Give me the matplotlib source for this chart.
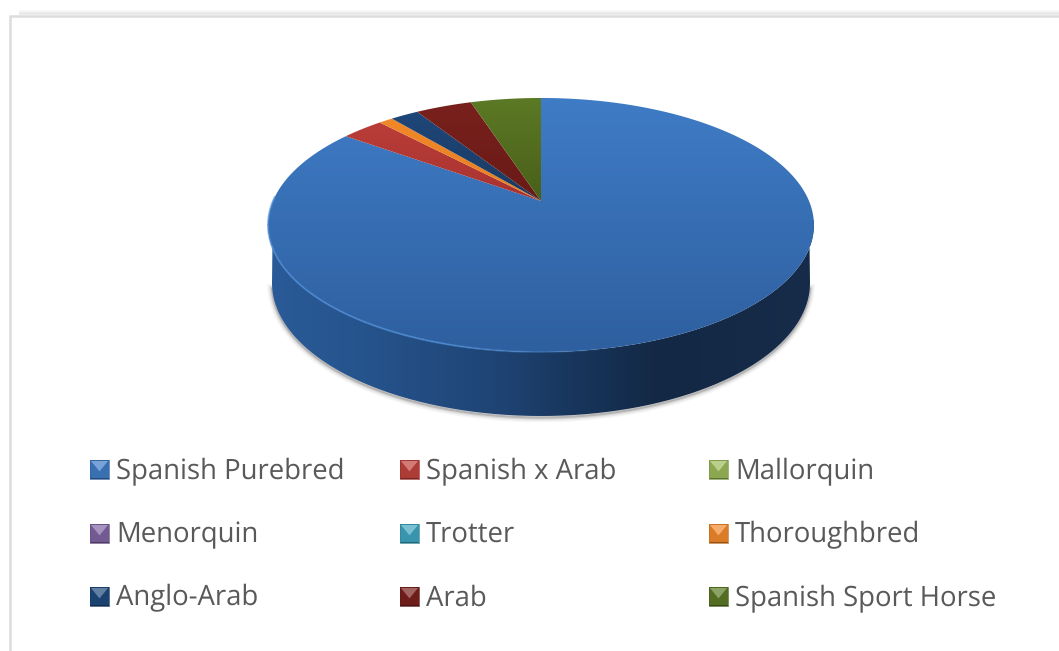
import numpy as np
import matplotlib
matplotlib.use('Agg')
import matplotlib.pyplot as plt
from matplotlib.collections import LineCollection
from matplotlib.colors import LinearSegmentedColormap, to_rgb
from matplotlib.patches import PathPatch, Polygon, Rectangle
from matplotlib.path import Path

# breeds, in legend order, share of the horses in percent
breeds = ['Spanish Purebred', 'Spanish x Arab', 'Mallorquin',
          'Menorquin', 'Trotter', 'Thoroughbred',
          'Anglo-Arab', 'Arab', 'Spanish Sport Horse']
shares = [85, 3, 0, 0, 0, 1, 2, 4, 5]

colors = ['#3f7cc6', '#c0413c', '#9bbb59', '#8064a2', '#3fa5c0', '#f28a2b', '#1f497d', '#7a211d', '#5c7a26']
bottom_colors = ['#2e5f9f', '#a83230', '#9bbb59', '#8064a2', '#3fa5c0', '#ea8020', '#1b3a62', '#691a17', '#4a5f19']

plt.rcParams['font.family'] = ['Open Sans', 'DejaVu Sans']
plt.rcParams['text.hinting'] = 'no_hinting'

fig = plt.figure(figsize=(10.59, 6.51), dpi=100)
ax = fig.add_axes([0, 0, 1, 1])
ax.set_xlim(0, 1059)
ax.set_ylim(651, 0)
ax.axis('off')

# chart frame, with its soft shadow above
for i, a in enumerate([0.05, 0.08, 0.12, 0.18]):
    ax.plot([20, 1059], [11 + i, 11 + i], color='#9a9a9a', alpha=a, lw=1.2, zorder=1)
ax.plot([9.5, 9.5, 1059], [651, 15.5, 15.5], color='#dcdcdc', lw=1.8, zorder=1, solid_joinstyle='miter')

# the pie is a circle seen in perspective, so the apex sits above the middle of the ellipse
cx = 541
persp = 0.189
radius = 268


def project(theta):
    u = np.sin(theta)
    v = np.cos(theta)
    w = 1 + persp * v
    return cx + radius * u / w, (201 - 84.5 * v) / w


def gradient_fill(path, stops, extent, horizontal=False, z=3):
    cmap = LinearSegmentedColormap.from_list('g', stops)
    g = np.linspace(0, 1, 256)
    g = g.reshape(1, -1) if horizontal else g.reshape(-1, 1)
    im = ax.imshow(g, cmap=cmap, extent=extent, aspect='auto', zorder=z, interpolation='bilinear')
    patch = PathPatch(path, transform=ax.transData, fc='none', ec='none')
    ax.add_patch(patch)
    im.set_clip_path(patch)


# outer wall
t_low = np.linspace(np.pi / 2, 3 * np.pi / 2, 300)
low_x = cx + 269 * np.sin(t_low)
low_y = 283 - 133 * np.cos(t_low)
for lw, a in [(7, 0.05), (5, 0.08), (3, 0.14), (1.5, 0.25)]:
    ax.plot(low_x[3:-3], low_y[3:-3] + 1.5, color='#555555', alpha=a, lw=lw, zorder=2)

t_top = np.linspace(3 * np.pi / 2, np.pi / 2, 300)
top_x, top_y = project(t_top)
wall = Path(np.column_stack([np.r_[low_x, top_x], np.r_[low_y, top_y]]))
wall_stops = [(0, '#2a5b98'), (0.2, '#25528a'), (0.42, '#1f4474'), (0.58, '#17345a'),
              (0.72, '#132844'), (1, '#162c4a')]
gradient_fill(wall, wall_stops, (268, 814, 420, 220), horizontal=True)

# top face, wedges run counter-clockwise from twelve o'clock after the big slice
total = sum(shares)
start = 0.0
for share, c1, c2 in zip(shares, colors, bottom_colors):
    if share == 0:
        continue
    end = start + 2 * np.pi * share / total
    t = np.linspace(start, end, max(int(share * 8), 4))
    x, y = project(t)
    verts = np.column_stack([np.r_[cx, x], np.r_[201, y]])
    if share == max(shares):
        stops = [(0, c1), (1, c2)]
    else:
        stops = [(0, c1), (0.4, c2), (1, c2)]
    gradient_fill(Path(np.vstack([verts, verts[0]]), closed=True), stops, (260, 820, 355, 95), z=4)
    start = end

# light rim along the front edge of the top face
t_rim = np.linspace(2.9, 4.75, 200)
rx, ry = project(t_rim)
pts = np.column_stack([rx, ry]).reshape(-1, 1, 2)
segs = np.concatenate([pts[:-1], pts[1:]], axis=1)
rim_alpha = np.clip((t_rim[:-1] - 2.9) / 0.5, 0, 1) * 0.7
rim_rgb = to_rgb('#4f8fd8')
ax.add_collection(LineCollection(segs, colors=[(*rim_rgb, a) for a in rim_alpha], linewidths=1.4, zorder=5))

# legend with the bevelled office-style keys
col_x = [90, 400, 709]
row_y = [460, 524, 587]
size = 19


def mix(c, other, f):
    c = np.array(to_rgb(c))
    return tuple(c + (np.array(other) - c) * f)


for i, (name, col) in enumerate(zip(breeds, colors)):
    x0 = col_x[i % 3]
    y0 = row_y[i // 3]
    ax.add_patch(Rectangle((x0, y0), size, size, fc=mix(col, (0, 0, 0), 0.1), ec='none', zorder=6))
    ax.add_patch(Polygon([(x0 + 1, y0 + 1), (x0 + size - 1, y0 + 1), (x0 + size / 2, y0 + size * 0.6)],
                         fc=mix(col, (1, 1, 1), 0.3), ec='none', zorder=7))
    ax.add_patch(Rectangle((x0, y0 + size - 1.5), size, 1.5, fc=mix(col, (0, 0, 0), 0.4), ec='none', zorder=7))
    ax.add_patch(Rectangle((x0, y0), size, size, fc='none', ec=mix(col, (0, 0, 0), 0.2), lw=0.5, zorder=8))
    ax.text(x0 + 26, y0 + 18.5, name, fontsize=19.8, color='#595959', va='baseline', ha='left', zorder=8)

fig.savefig('out.png', dpi=100)
